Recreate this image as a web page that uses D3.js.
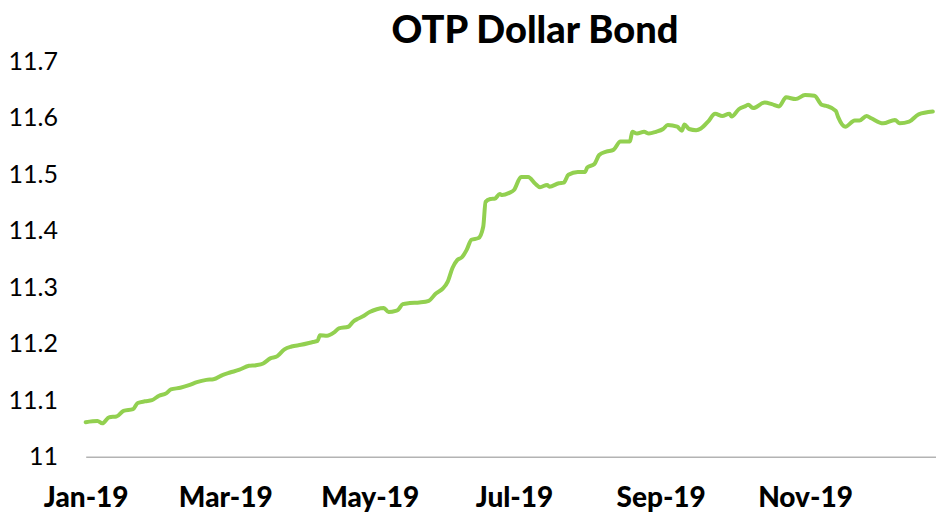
<!DOCTYPE html>
<html>
<head>
<meta charset="utf-8">
<script src="https://cdn.jsdelivr.net/npm/d3@7"></script>
<style>
  html, body { margin: 0; padding: 0; background: #fff; overflow: hidden; }
  svg { display: block; font-family: Lato, "Open Sans", sans-serif; }
</style>
</head>
<body>
<div id="chart"></div>
<script>
// Series
const dates = [
  '2019-01-01','2019-01-06','2019-01-08','2019-01-11','2019-01-14','2019-01-17','2019-01-21','2019-01-23',
  '2019-01-26','2019-01-29','2019-02-01','2019-02-04','2019-02-06','2019-02-10','2019-02-14','2019-02-17',
  '2019-02-21','2019-02-24','2019-02-28','2019-03-03','2019-03-07','2019-03-11','2019-03-14','2019-03-17',
  '2019-03-20','2019-03-23','2019-03-26','2019-03-29','2019-04-02','2019-04-07','2019-04-09','2019-04-10',
  '2019-04-13','2019-04-16','2019-04-18','2019-04-22','2019-04-24','2019-04-26','2019-04-28','2019-05-01',
  '2019-05-04','2019-05-07','2019-05-09','2019-05-12','2019-05-13','2019-05-15','2019-05-18','2019-05-22',
  '2019-05-26','2019-05-29','2019-06-01','2019-06-03','2019-06-05','2019-06-07','2019-06-09','2019-06-11',
  '2019-06-13','2019-06-16','2019-06-18','2019-06-19','2019-06-21','2019-06-23','2019-06-25','2019-06-26',
  '2019-06-29','2019-07-01','2019-07-04','2019-07-07','2019-07-10','2019-07-12','2019-07-15','2019-07-16',
  '2019-07-20','2019-07-22','2019-07-24','2019-07-28','2019-07-31','2019-08-01','2019-08-04','2019-08-06',
  '2019-08-09','2019-08-12','2019-08-15','2019-08-19','2019-08-20','2019-08-22','2019-08-25','2019-08-27',
  '2019-08-30','2019-09-02','2019-09-04','2019-09-08','2019-09-10','2019-09-11','2019-09-13','2019-09-16',
  '2019-09-18','2019-09-21','2019-09-24','2019-09-27','2019-09-30','2019-10-01','2019-10-04','2019-10-07',
  '2019-10-08','2019-10-10','2019-10-15','2019-10-18','2019-10-21','2019-10-24','2019-10-28','2019-11-01',
  '2019-11-05','2019-11-08','2019-11-10','2019-11-14','2019-11-15','2019-11-18','2019-11-22','2019-11-24',
  '2019-11-27','2019-11-29','2019-12-04','2019-12-09','2019-12-11','2019-12-15','2019-12-19','2019-12-25'
];
const values = [
  11.061,11.063,11.059,11.070,11.071,11.081,11.084,11.095,
  11.098,11.100,11.108,11.112,11.119,11.122,11.127,11.132,
  11.136,11.137,11.145,11.149,11.154,11.161,11.162,11.165,
  11.174,11.178,11.190,11.195,11.198,11.203,11.205,11.215,
  11.214,11.220,11.227,11.230,11.239,11.244,11.248,11.256,
  11.261,11.263,11.256,11.258,11.260,11.270,11.272,11.273,
  11.276,11.289,11.298,11.310,11.334,11.348,11.353,11.366,
  11.384,11.387,11.407,11.451,11.456,11.457,11.465,11.463,
  11.467,11.472,11.495,11.495,11.483,11.477,11.481,11.478,
  11.484,11.485,11.499,11.504,11.504,11.512,11.518,11.534,
  11.540,11.543,11.558,11.558,11.575,11.572,11.575,11.572,
  11.575,11.580,11.587,11.584,11.577,11.588,11.580,11.578,
  11.581,11.593,11.607,11.603,11.607,11.602,11.615,11.621,
  11.623,11.617,11.627,11.624,11.620,11.636,11.633,11.640,
  11.639,11.623,11.621,11.612,11.601,11.584,11.595,11.595,
  11.603,11.599,11.590,11.596,11.590,11.593,11.606,11.611
];
const yTicks = [11, 11.1, 11.2, 11.3, 11.4, 11.5, 11.6, 11.7];
const xTickDates = ['2019-01-01','2019-03-01','2019-05-01','2019-07-01','2019-09-01','2019-11-01'];
const title = 'OTP Dollar Bond';

const width = 936, height = 513;
const parse = d3.timeParse('%Y-%m-%d');
const data = dates.map((d, i) => ({ date: parse(d), value: values[i] }));

const svg = d3.select('#chart').append('svg')
  .attr('width', width)
  .attr('height', height);

// plot area runs past the right edge of the picture (cropped)
const x = d3.scaleTime()
  .domain([parse('2019-01-01'), parse('2019-12-31')])
  .range([85.7, 947]);
const y = d3.scaleLinear()
  .domain([11, 11.7])
  .range([456.7, 61.2]);

// title
svg.append('text')
  .attr('x', 535).attr('y', 43)
  .attr('text-anchor', 'middle')
  .attr('font-size', 38)
  .attr('font-weight', 900)
  .attr('fill', '#000')
  .text(title);

// y axis labels (no line, no ticks)
const yAxis = svg.append('g')
  .attr('transform', 'translate(58,0)')
  .call(d3.axisLeft(y).tickValues(yTicks).tickSize(0).tickPadding(0).tickFormat(d3.format('')));
yAxis.select('.domain').remove();
yAxis.selectAll('text')
  .attr('font-family', 'Lato, "Open Sans", sans-serif')
  .attr('font-size', 25)
  .attr('fill', '#000');

// x axis line + labels
const xAxis = svg.append('g')
  .attr('transform', `translate(0,${y(11)})`)
  .call(d3.axisBottom(x)
    .tickValues(xTickDates.map(parse))
    .tickSize(0).tickPadding(30)
    .tickFormat(d3.timeFormat('%b-%y')));
xAxis.select('.domain')
  .attr('stroke', '#b3b3b3')
  .attr('stroke-width', 1.6);
xAxis.selectAll('text')
  .attr('font-family', 'Lato, "Open Sans", sans-serif')
  .attr('font-size', 28)
  .attr('font-weight', 900)
  .attr('fill', '#000');

// the series
const line = d3.line()
  .x(d => x(d.date))
  .y(d => y(d.value))
  .curve(d3.curveMonotoneX);

svg.append('path')
  .datum(data)
  .attr('fill', 'none')
  .attr('stroke', '#92d050')
  .attr('stroke-width', 4)
  .attr('stroke-linejoin', 'round')
  .attr('stroke-linecap', 'round')
  .attr('d', line);
</script>
</body>
</html>
